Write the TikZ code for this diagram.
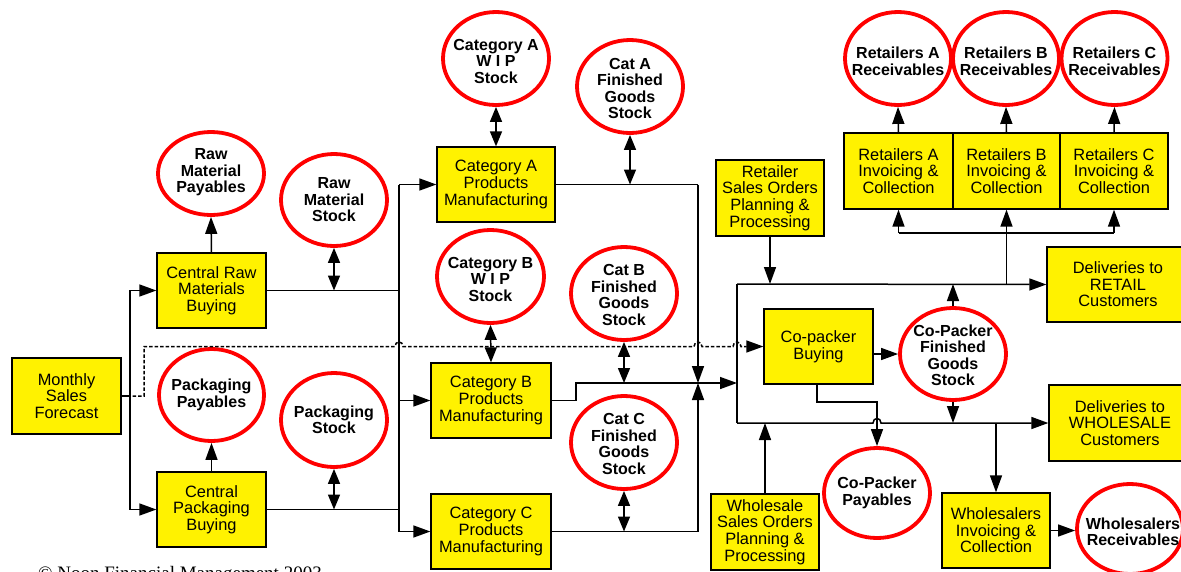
\documentclass[tikz,border=0pt]{standalone}
\usepackage{fontspec}
\setmainfont{Liberation Sans}
\newfontfamily\copyfont{Liberation Serif}
\usetikzlibrary{arrows.meta,shapes.geometric}
\tikzset{
 box/.style={draw=black, line width=1.3pt, fill=yellow, align=center, inner sep=0pt, font=\fontsize{16.4}{16.6}\selectfont},
 circ/.style={ellipse, draw=red, line width=3.8pt, fill=white, inner sep=0pt, minimum width=106pt, minimum height=93pt},
 ctext/.style={align=center, inner sep=0pt, font=\bfseries\fontsize{16}{16.5}\selectfont},
 ln/.style={line width=1.5pt},
 arr/.style={ln, -{Triangle[length=17pt,width=12pt]}},
 darr/.style={ln, {Triangle[length=15pt,width=12pt]}-{Triangle[length=15pt,width=12pt]}},
 dsh/.style={ln, dash pattern=on 3.5pt off 2pt},
}
\begin{document}
\begin{tikzpicture}[x=1pt,y=-1pt]
\useasboundingbox (0,0) rectangle (1181,571);
% ---------- boxes ----------
\node[box, minimum width=109pt, minimum height=76pt] (fc) at (66.5,396) {Monthly\\Sales\\Forecast};
\node[box, minimum width=109pt, minimum height=75pt] (crm) at (211.5,290.5) {Central Raw\\Materials\\Buying};
\node[box, minimum width=109pt, minimum height=75pt] (cpb) at (211.5,509.5) {Central\\Packaging\\Buying};
\node[box, minimum width=118pt, minimum height=75pt] (ma) at (496,184.5) {Category A\\Products\\Manufacturing};
\node[box, minimum width=120pt, minimum height=75pt] (mb) at (491,400.5) {Category B\\Products\\Manufacturing};
\node[box, minimum width=120pt, minimum height=75pt] (mc) at (491,531.5) {Category C\\Products\\Manufacturing};
\node[box, minimum width=108pt, minimum height=76pt] (rso) at (770,198) {Retailer\\Sales Orders\\Planning \&\\Processing};
\node[box, minimum width=109pt, minimum height=75pt] (cpk) at (818.5,346.5) {Co-packer\\Buying};
\node[box, minimum width=109pt, minimum height=76pt] (ria) at (898.5,171) {Retailers A\\Invoicing \&\\Collection};
\node[box, minimum width=107pt, minimum height=76pt] (rib) at (1006.5,171) {Retailers B\\Invoicing \&\\Collection};
\node[box, minimum width=108pt, minimum height=76pt] (ric) at (1114,171) {Retailers C\\Invoicing \&\\Collection};
\node[box, minimum width=142pt, minimum height=75pt] (dr) at (1118,284.5) {Deliveries to\\RETAIL\\Customers};
\node[box, minimum width=142pt, minimum height=76pt] (dw) at (1120,423) {Deliveries to\\WHOLESALE\\Customers};
\node[box, minimum width=108pt, minimum height=76pt] (wso) at (765,532) {Wholesale\\Sales Orders\\Planning \&\\Processing};
\node[box, minimum width=108pt, minimum height=75pt] (wic) at (996,530.5) {Wholesalers\\Invoicing \&\\Collection};
% ---------- stocks / balances ----------
\node[circ, minimum height=83pt] (rmp) at (211,173.5) {};
\node[ctext] (rmpT) at ([yshift=1pt]rmp.center) {Raw\\Material\\Payables};
\node[circ, minimum height=92pt] (rms) at (334,200) {};
\node[ctext] (rmsT) at (rms.center) {Raw\\Material\\Stock};
\node[circ, minimum width=105pt, minimum height=92pt] (ppay) at (211.5,395) {};
\node[ctext] (ppayT) at (ppay.center) {Packaging\\Payables};
\node[circ, minimum height=94pt] (pst) at (334,420) {};
\node[ctext] (pstT) at (pst.center) {Packaging\\Stock};
\node[circ] (wipa) at (496,58.5) {};
\node[ctext] (wipaT) at ([yshift=-2.5pt]wipa.center) {Category A\\W I P\\Stock};
\node[circ] (fga) at (630,86.5) {};
\node[ctext] (fgaT) at ([yshift=-2pt]fga.center) {Cat A\\Finished\\Goods\\Stock};
\node[circ, minimum width=107pt] (wipb) at (490.5,276.5) {};
\node[ctext] (wipbT) at ([yshift=-2.5pt]wipb.center) {Category B\\W I P\\Stock};
\node[circ] (fgb) at (624,293.5) {};
\node[ctext] (fgbT) at ([yshift=-1.5pt]fgb.center) {Cat B\\Finished\\Goods\\Stock};
\node[circ] (fgc) at (624,442.5) {};
\node[ctext] (fgcT) at ([yshift=-1.5pt]fgc.center) {Cat C\\Finished\\Goods\\Stock};
\node[circ, minimum height=92pt] (cpfg) at (953,354) {};
\node[ctext] (cpfgT) at ([yshift=-1.5pt]cpfg.center) {Co-Packer\\Finished\\Goods\\Stock};
\node[circ, minimum height=90pt] (cpp) at (877,493) {};
\node[ctext] (cppT) at (cpp.center) {Co-Packer\\Payables};
\node[circ, minimum height=90pt] (wr) at (1130,529) {};
\node[ctext] (wrT) at ([xshift=3pt,yshift=-3pt]wr.center) {Wholesalers\\Receivables};
\node[circ] (ra) at (898,58.5) {};
\node[ctext] (raT) at ([yshift=-3pt]ra.center) {Retailers A\\Receivables};
\node[circ] (rb) at (1006,58.5) {};
\node[ctext] (rbT) at ([yshift=-3pt]rb.center) {Retailers B\\Receivables};
\node[circ] (rc) at (1114.5,58.5) {};
\node[ctext] (rcT) at ([yshift=-3pt]rc.center) {Retailers C\\Receivables};
% ---------- coordinates ----------
\coordinate (fj) at (130,396);
\coordinate (busT) at (399,184.5);
\coordinate (busB) at (399,531.5);
\coordinate (ja) at (698,184.5);
\coordinate (jx) at (698,383);
\coordinate (jc) at (698,531.5);
\coordinate (fTL) at (737,284);
\coordinate (fBL) at (737,423);
\coordinate (rj) at (1006.5,284);
\coordinate (rbar) at (898.5,233);
\coordinate (cpbend) at (817,402);
% ---------- forecast split ----------
\draw[ln] (fc.east) -- (fj);
\draw[arr] (fj) |- (crm.west);
\draw[arr] (fj) |- (cpb.west);
% dashed forecast to co-packer
\draw[dsh, arr] (fc.east) -- (144,396) -- (144,346.5) -- (395,346.5)
  .. controls (395,340.5) and (403,340.5) .. (403,346.5) -- (694,346.5)
  .. controls (694,340.5) and (702,340.5) .. (702,346.5) -- (733,346.5)
  .. controls (733,340.5) and (741,340.5) .. (741,346.5) -- (cpk.west);
% ---------- buying to manufacturing bus ----------
\draw[ln] (crm.east) -- (crm.east -| busT);
\draw[ln] (cpb.east) -- (cpb.east -| busT);
\draw[ln] (busT) -- (busB);
\draw[arr] (busT) -- (ma.west);
\draw[arr] (busT |- mb.west) -- (mb.west);
\draw[arr] (busB) -- (mc.west);
\draw[arr] (crm.north) -- (rmp.south);
\draw[arr] (cpb.north) -- (ppay.south);
\draw[darr] (rms.south) -- (rms.south |- crm.east);
\draw[darr] (pst.south) -- (pst.south |- cpb.east);
% ---------- manufacturing ----------
\draw[darr] (wipa.south) -- (ma.north);
\draw[darr] (wipb.south) -- (mb.north);
\draw[ln] (ma.east) -- (ja);
\draw[arr] (ja) -- (jx);
\draw[darr] (fga.south) -- (fga.south |- ma.east);
\draw[arr] (mb.east) -- (576,400.5) -- (576,383) -- (fTL |- jx);
\draw[darr] (fgb.south) -- (fgb.south |- jx);
\draw[ln] (mc.east) -- (jc);
\draw[arr] (jc) -- (jx);
\draw[darr] (fgc.south) -- (fgc.south |- mc.east);
% ---------- distribution ----------
\draw[ln] (fBL) -- (fTL);
\draw[arr] (fTL) -- (dr.west);
\draw[arr] (fBL) -- (873,423) .. controls (873,417) and (881,417) .. (881,423) -- (dw.west);
\draw[arr] (rso.south) -- (rso.south |- fTL);
\draw[arr] (wso.north) -- (wso.north |- fBL);
\draw[arr] (cpk.east |- cpfg.west) -- (cpfg.west);
\draw[arr] (cpfg.north) -- (cpfg.north |- fTL);
\draw[arr] (cpfg.south) -- (cpfg.south |- fBL);
\draw[arr] (cpk.south -| cpbend) -- (cpbend) -| (cpp.north);
% retail invoicing
\draw[arr] (rj) -- (rib.south);
\draw[ln] (rbar) -- (rbar -| ric.south);
\draw[arr] (rbar) -- (ria.south);
\draw[arr] (rbar -| ric.south) -- (ric.south);
\draw[arr] (ria.north) -- (ra.south);
\draw[arr] (rib.north) -- (rb.south);
\draw[arr] (ric.north) -- (rc.south);
% wholesale invoicing
\draw[arr] (wic.north |- fBL) -- (wic.north);
\draw[arr] (wic.east) -- (wic.east -| wr.west);
% ---------- footer ----------
\node[anchor=base west, inner sep=0pt, font=\copyfont\fontsize{19}{19}\selectfont] (copy) at (38,579) {© Noon Financial Management 2003};
\end{tikzpicture}
\end{document}
